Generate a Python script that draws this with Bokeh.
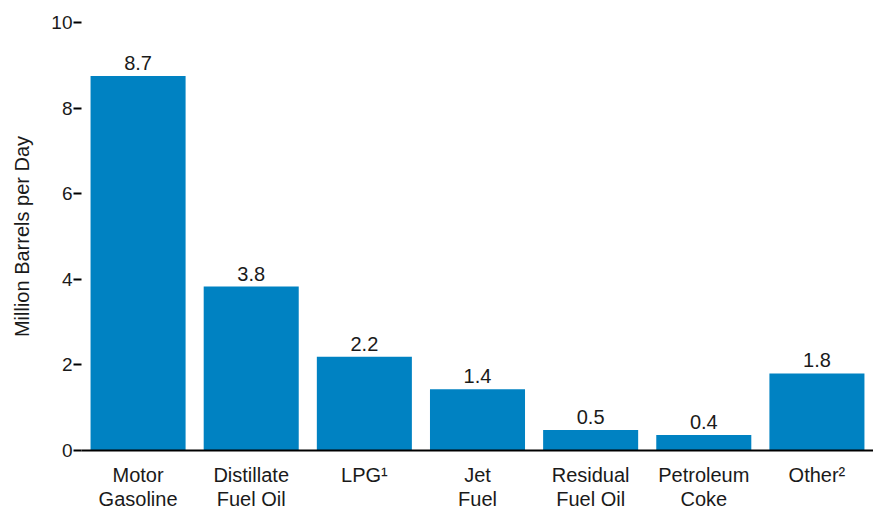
from bokeh.plotting import figure
from bokeh.models import ColumnDataSource, FactorRange, Range1d, FixedTicker, LabelSet
from bokeh.core.properties import value
from bokeh.embed import file_html
from bokeh.resources import INLINE

categories = ["Motor\nGasoline", "Distillate\nFuel Oil", "LPG\u00b9", "Jet\nFuel",
              "Residual\nFuel Oil", "Petroleum\nCoke", "Other\u00b2"]
values = [8.75, 3.83, 2.19, 1.43, 0.48, 0.36, 1.80]
value_labels = ["8.7", "3.8", "2.2", "1.4", "0.5", "0.4", "1.8"]
y_ticks = [0, 2, 4, 6, 8, 10]

FONT = "Liberation Sans"
BAR = "#0082C2"
TXT = "#1a1a1a"

src = ColumnDataSource(dict(cat=categories, val=values, lab=value_labels))

p = figure(x_range=FactorRange(*categories, range_padding=0),
           y_range=Range1d(0, 10),
           width=873, height=512, output_backend="svg", toolbar_location=None,
           min_border_left=81, min_border_right=0, min_border_top=22, min_border_bottom=50)
p.x_range.range_padding = 0
p.outline_line_color = None
p.xgrid.grid_line_color = None
p.ygrid.grid_line_color = None

p.vbar(x="cat", top="val", width=0.84, source=src, color=BAR, line_color=None)

labels = LabelSet(x="cat", y="val", text="lab", source=src, text_align="center",
                  text_baseline="bottom", y_offset=6, text_font=value(FONT),
                  text_font_size="20px", text_color=TXT)
p.add_layout(labels)

ya = p.yaxis[0]
ya.ticker = FixedTicker(ticks=y_ticks)
ya.axis_line_color = None
ya.major_tick_line_color = "black"
ya.major_tick_line_width = 2
ya.major_tick_out = 8
ya.major_tick_in = 0
ya.minor_tick_line_color = None
ya.major_label_standoff = 1
ya.major_label_text_font = FONT
ya.major_label_text_font_size = "19px"
ya.major_label_text_color = TXT
ya.axis_label = "Million Barrels per Day"
ya.axis_label_text_font = FONT
ya.axis_label_text_font_size = "20px"
ya.axis_label_text_font_style = "normal"
ya.axis_label_text_color = TXT
ya.axis_label_standoff = 15

xa = p.xaxis[0]
xa.axis_line_color = "black"
xa.axis_line_width = 2
xa.major_tick_line_color = None
xa.minor_tick_line_color = None
xa.major_label_standoff = 7
xa.major_label_text_font = FONT
xa.major_label_text_font_size = "20px"
xa.major_label_text_line_height = 1.1
xa.major_label_text_color = TXT

open("out.html", "w").write(file_html(p, INLINE))
